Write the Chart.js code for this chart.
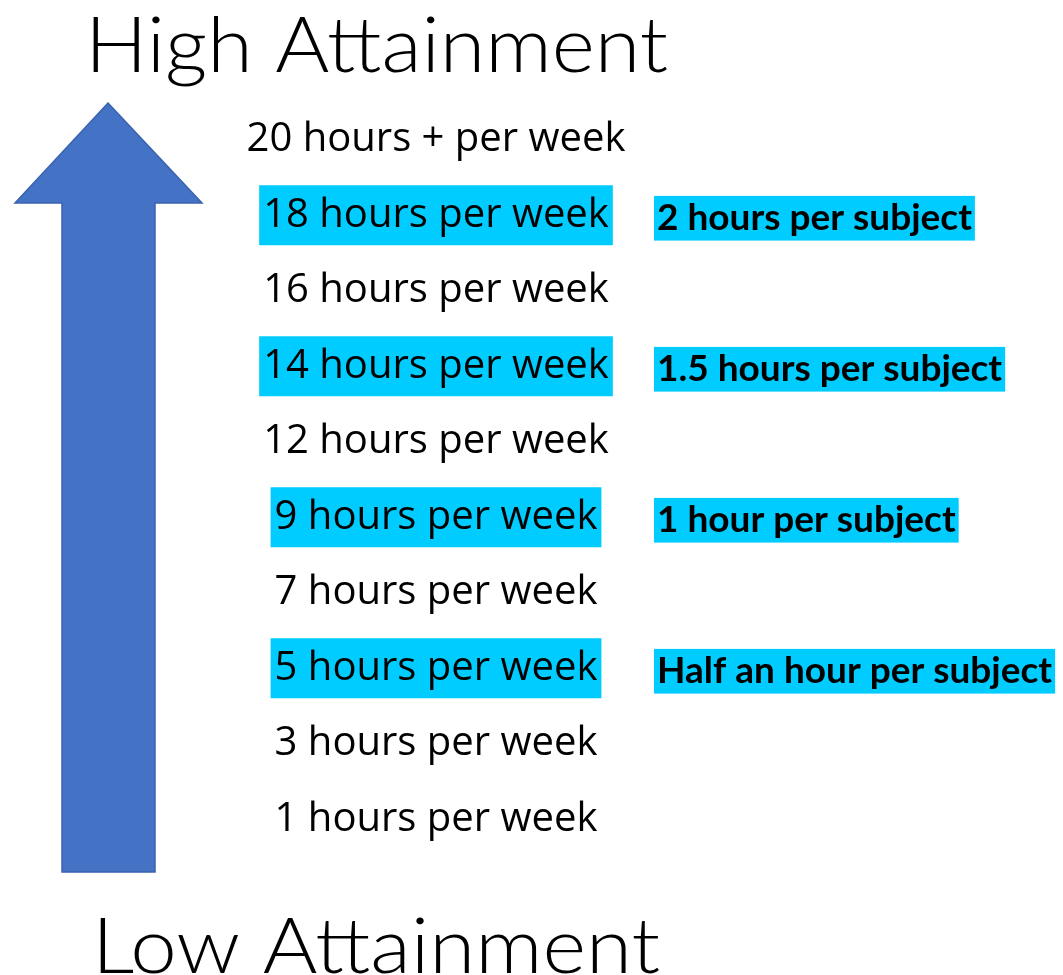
<!DOCTYPE html>
<html>
<head>
<meta charset="utf-8">
<script src="https://cdn.jsdelivr.net/npm/chart.js@4.4.0/dist/chart.umd.min.js"></script>
<style>
  html, body { margin: 0; padding: 0; background: #fff; }
  #wrap { width: 1063px; height: 975px; }
</style>
</head>
<body>
<div id="wrap"><canvas id="myChart"></canvas></div>
<script>
// Rows from top (high) to bottom (low)
const weeklyHours = [20, 18, 16, 14, 12, 9, 7, 5, 3, 1];
const hourLabels = weeklyHours.map((h, i) => i === 0 ? h + ' hours + per week' : h + ' hours per week');
const subjectNotes = ['', '2 hours per subject', '', '1.5 hours per subject', '', '1 hour per subject', '', 'Half an hour per subject', '', ''];
const topTitle = 'High Attainment';
const bottomTitle = 'Low Attainment';

const ctx = document.getElementById('myChart');

const highlight = '#00CCFF';
const hourFont = { family: 'Open Sans', size: 40, lineHeight: 1.2 };
const noteFont = { family: 'Lato', weight: 'bold', size: 37, lineHeight: 1.1 };
const hourCenterX = 436;   // labels are centred on this x
const notesStartX = 647;   // right axis starts here

function fontString(f) {
    return (f.weight || 'normal') + ' ' + f.size + 'px "' + f.family + '"';
}

// Arrow on the left and the two big titles
const attainmentArrow = {
    id: 'attainmentArrow',
    beforeDraw(chart) {
        const c = chart.ctx;
        c.save();
        c.fillStyle = '#fff';
        c.fillRect(0, 0, chart.width, chart.height);
        c.beginPath();
        c.moveTo(108, 103);
        c.lineTo(202, 203);
        c.lineTo(155, 203);
        c.lineTo(155, 872);
        c.lineTo(62, 872);
        c.lineTo(62, 203);
        c.lineTo(15, 203);
        c.closePath();
        c.fillStyle = '#4472C4';
        c.fill();
        c.lineWidth = 1.5;
        c.strokeStyle = '#3A62AE';
        c.stroke();
        c.restore();
    },
    afterDraw(chart) {
        const c = chart.ctx;
        const drawTitle = (text, x, baseline, width) => {
            c.save();
            c.font = '300 77px "Lato"';
            c.fillStyle = '#000';
            c.textBaseline = 'alphabetic';
            const w = c.measureText(text).width;
            c.translate(x, baseline);
            c.scale(width / w, 1);
            c.fillText(text, 0, 0);
            c.restore();
        };
        drawTitle(topTitle, 85, 72, 583);
        drawTitle(bottomTitle, 92, 973, 568);
    }
};

let options = {
    responsive: true,
    maintainAspectRatio: false,
    animation: false,
    indexAxis: 'y',
    layout: { padding: { top: 102, bottom: 118, left: 0, right: 0 } },
    plugins: { legend: { display: false }, tooltip: { enabled: false } },
    scales: {
        x: { type: 'linear', display: false, min: 0, max: 1 },
        y: {
            type: 'category',
            position: 'left',
            labels: hourLabels,
            offset: true,
            min: 0, max: hourLabels.length - 1,
            grid: { display: false, drawTicks: false },
            border: { display: false },
            ticks: {
                autoSkip: false,
                crossAlign: 'center',
                padding: 6,
                color: '#000',
                font: hourFont,
                showLabelBackdrop: (c) => subjectNotes[c.index] !== '',
                backdropColor: highlight,
                backdropPadding: { left: 4, right: 4, top: 6, bottom: 6 }
            },
            afterFit(scale) {
                const c = scale.ctx;
                c.save();
                c.font = fontString(hourFont);
                const widest = Math.max(...hourLabels.map(l => c.measureText(l).width));
                c.restore();
                scale.width = hourCenterX + widest / 2 + 6;
            }
        },
        notes: {
            type: 'category',
            position: 'right',
            axis: 'y',
            labels: subjectNotes,
            offset: true,
            min: 0, max: subjectNotes.length - 1,
            grid: { display: false, drawTicks: false },
            border: { display: false },
            ticks: {
                autoSkip: false,
                padding: 10,
                labelOffset: 3,
                color: '#000',
                font: noteFont,
                showLabelBackdrop: (c) => subjectNotes[c.index] !== '',
                backdropColor: highlight,
                backdropPadding: { left: 3, right: 3, top: 2, bottom: 2 }
            },
            afterFit(scale) {
                scale.width = 1063 - notesStartX;
            }
        }
    }
};

let chartData = {
    type: 'bar',
    data: { labels: hourLabels, datasets: [] },
    options: options,
    plugins: [attainmentArrow]
};

const myChart = new Chart(ctx, chartData);
</script>
</body>
</html>
